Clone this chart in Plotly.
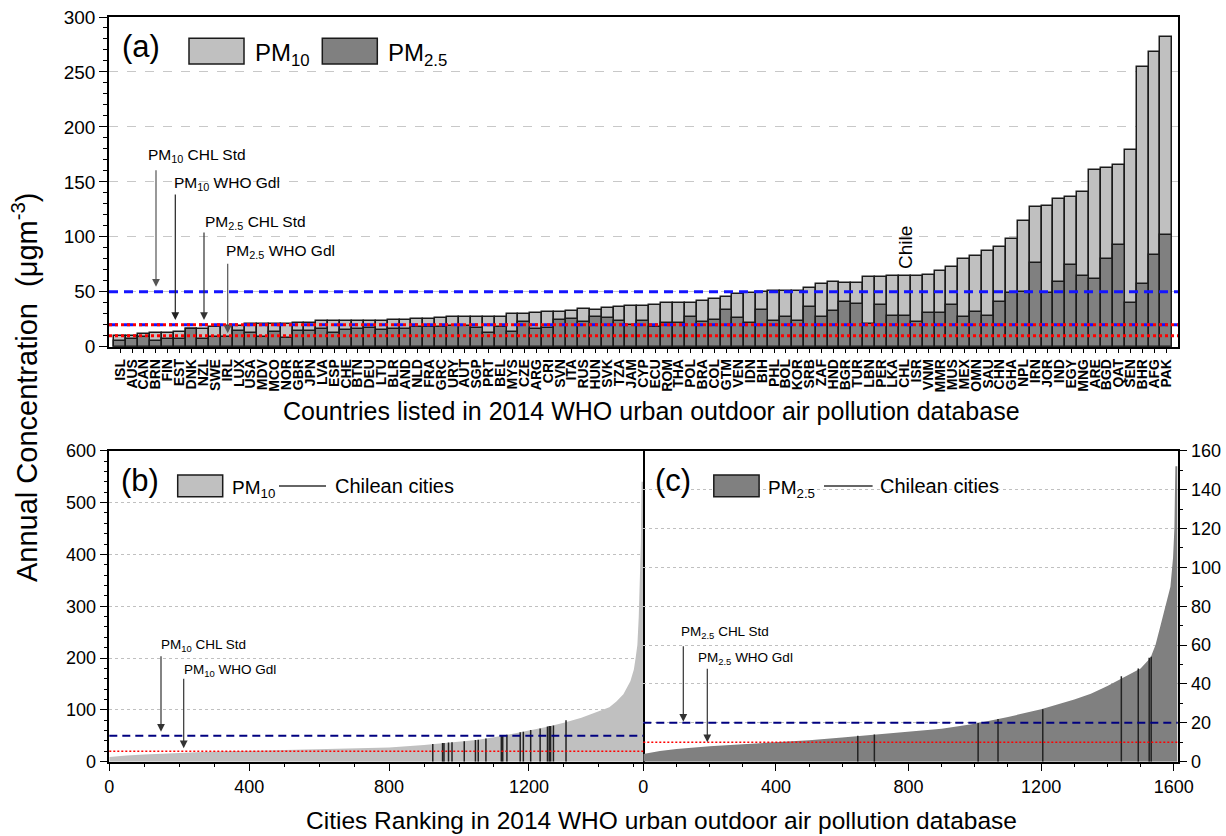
import plotly.graph_objects as go

W, H = 1226, 836


def px(x):
    return x / W


def py(y):
    return 1 - y / H


# ---------------- data ----------------
countries = ["ISL", "AUS", "CAN", "BRN", "FIN", "EST", "DNK", "NZL", "SWE", "IRL",
             "LUX", "USA", "MDV", "MCO", "NOR", "GBR", "JPN", "LVA", "ESP", "CHE",
             "BTN", "DEU", "LTU", "BLR", "AND", "NLD", "FRA", "GRC", "URY", "AUT",
             "SGP", "PRT", "BEL", "MYS", "CZE", "ARG", "CRI", "SVN", "ITA", "RUS",
             "HUN", "SVK", "TZA", "JAM", "CYP", "ECU", "ROM", "THA", "POL", "BRA",
             "COL", "GTM", "VEN", "IDN", "BIH", "PHL", "BOL", "KOR", "SRB", "ZAF",
             "HND", "BGR", "TUR", "LBN", "PER", "LKA", "CHL", "ISR", "VNM", "MMR",
             "MUS", "MEX", "OMN", "SAU", "CHN", "GHA", "NPL", "IRN", "JOR", "IND",
             "EGY", "MNG", "ARE", "BGD", "QAT", "SEN", "BHR", "AFG", "PAK"]

pm10_country = [9.5, 10, 11.5, 12.5, 12.7, 13.7, 16, 16.3, 17.8, 19,
                19, 20.8, 20.8, 20.8, 20.8, 21.8, 21.8, 23.3, 23.3, 23.3,
                23, 23, 23, 24.3, 24.3, 25.3, 25.3, 26.3, 27.2, 27.3,
                27.3, 27.3, 27.3, 29.4, 29.4, 31, 31.9, 31.6, 32.8, 34,
                33.7, 34.9, 35.8, 36.7, 36.7, 38.3, 39.5, 39.5, 39.5, 41.3,
                43.1, 45.5, 47.7, 48.9, 49.8, 50.4, 51, 51, 53.1, 56.8,
                58.5, 58.3, 58.3, 63.8, 63.8, 64.4, 64.4, 64.4, 65.3, 69.2,
                72.3, 79.5, 82.6, 87.4, 90.5, 98.1, 114.1, 127.5, 128.1, 134.2,
                136.3, 140.6, 161.2, 163, 165.1, 179.1, 254.1, 268.1, 281.7]

pm25_country = [5.5, 6.7, 8.5, 5.5, 7, 7, 16, 6.7, 9, 9.1,
                14.3, 12.7, 9.1, 13.7, 7.6, 14.3, 14, 16.1, 12.5, 15.5,
                16, 17.3, 15.2, 16, 16, 17.6, 18, 17.6, 18.8, 18.8,
                17.3, 12.1, 18.2, 13.7, 22.2, 16.4, 17.3, 24.3, 25.5, 22.8,
                27.3, 26.1, 23.1, 19.7, 23.4, 17.6, 21.3, 21.9, 27.3, 22.8,
                24.3, 33.4, 26.4, 21.9, 33.4, 23.4, 27.3, 23.4, 36.4, 27.3,
                32.2, 41, 38.9, 20.6, 37.9, 28.2, 28.2, 22.8, 30.4, 30.4,
                37.6, 27.3, 31.3, 28.2, 41, 49.2, 50.1, 76.2, 48.6, 59.2,
                74.1, 64.4, 61.3, 79.5, 92.3, 40.1, 57.1, 83.8, 101.4]

# city rankings (values read at sampled ranks)
pm10_rank = [0, 25, 50, 100, 200, 300, 400, 500, 600, 700, 800, 900, 1000, 1050,
             1100, 1150, 1200, 1250, 1300, 1350, 1400, 1430, 1450, 1470, 1490,
             1500, 1505, 1510, 1514, 1517, 1520, 1522, 1526]
pm10_city = [9, 11, 12, 14, 17, 19.5, 21, 22.5, 24, 25.5, 27.5, 32, 38, 42,
             47, 53, 60, 67, 75, 85, 97, 105, 116, 130, 155,
             178, 200, 225, 280, 340, 420, 540, 540]

chile_pm10_rank = [925, 953, 957, 970, 980, 1015, 1047, 1055, 1077, 1121, 1125,
                   1137, 1175, 1184, 1205, 1232, 1253, 1258, 1262, 1270, 1306]
chile_pm10_value = [34, 36, 36, 37, 37.5, 39.5, 42, 42.5, 45, 50, 51,
                    52, 57, 58, 61, 64, 68, 69, 69, 70, 80]

pm25_rank = [0, 50, 100, 200, 300, 400, 500, 600, 700, 800, 900, 1000, 1100,
             1200, 1300, 1350, 1400, 1450, 1500, 1530, 1545, 1560, 1575, 1590,
             1598, 1602, 1605, 1611]
pm25_city = [4, 5.5, 6.5, 8, 9, 10, 11, 12.5, 14, 15.5, 17, 19.5, 23,
             27, 32, 35, 39, 43.5, 48, 53.5, 60, 70, 80, 90,
             105, 120, 152, 152]

chile_pm25_rank = [647, 697, 1010, 1070, 1205, 1442, 1493, 1526, 1532]
chile_pm25_value = [13.3, 14, 20, 22, 27, 44, 48, 53.5, 54]

pm10_chl_std, pm10_who_gdl = 50, 20
pm25_chl_std, pm25_who_gdl = 20, 10

# ---------------- figure ----------------
FONT = "Liberation Sans, Arial, sans-serif"
NARROW = "Liberation Sans Narrow, Arial Narrow, Liberation Sans, Arial, sans-serif"
idx = list(range(len(countries)))

fig = go.Figure()

fig.add_trace(go.Bar(x=idx, y=pm10_country, width=1, xaxis="x", yaxis="y",
                     marker=dict(color="#c0c0c0", line=dict(color="#1a1a1a", width=1.5)),
                     showlegend=False))
fig.add_trace(go.Bar(x=idx, y=pm25_country, width=1, xaxis="x", yaxis="y",
                     marker=dict(color="#808080", line=dict(color="#1a1a1a", width=1.5)),
                     showlegend=False))

fig.add_trace(go.Scatter(x=pm10_rank, y=pm10_city, mode="lines", fill="tozeroy",
                         fillcolor="#c0c0c0", line=dict(width=0, color="#c0c0c0"),
                         xaxis="x2", yaxis="y2", showlegend=False))
fig.add_trace(go.Scatter(x=pm25_rank, y=pm25_city, mode="lines", fill="tozeroy",
                         fillcolor="#808080", line=dict(width=0, color="#808080"),
                         xaxis="x3", yaxis="y3", showlegend=False))


def vlines(ranks, vals):
    xs, ys = [], []
    for r, v in zip(ranks, vals):
        xs += [r, r, None]
        ys += [0, v, None]
    return xs, ys


cx, cy = vlines(chile_pm10_rank, chile_pm10_value)
fig.add_trace(go.Scatter(x=cx, y=cy, mode="lines", line=dict(color="#222222", width=1.5),
                         xaxis="x2", yaxis="y2", showlegend=False))
cx, cy = vlines(chile_pm25_rank, chile_pm25_value)
fig.add_trace(go.Scatter(x=cx, y=cy, mode="lines", line=dict(color="#222222", width=1.5),
                         xaxis="x3", yaxis="y3", showlegend=False))

# domains
xa = [px(109), px(1178)]
ya = [py(346.7), py(17)]
xb = [px(109.3), px(643.3)]
xc = [px(643.3), px(1177.7)]
ybc = [py(761.7), py(450.7)]

axis_common = dict(showline=True, linecolor="black", linewidth=1.5, tickcolor="black",
                   tickwidth=1.2, zeroline=False, ticks="outside",
                   tickfont=dict(family=FONT, size=18, color="black"))

fig.update_layout(
    width=W, height=H, margin=dict(l=0, r=0, t=0, b=0),
    paper_bgcolor="white", plot_bgcolor="white", barmode="overlay", bargap=0,
    template="none", showlegend=False, hovermode=False,
    xaxis=dict(**{**axis_common, "tickfont": dict(family=FONT, size=14, color="black", weight="bold")},
               domain=xa, anchor="y", range=[-0.94, 88.98], tickmode="array",
               tickvals=idx, ticktext=countries, tickangle=-90, ticklen=5,
               showgrid=False, mirror=True),
    yaxis=dict(**{**axis_common, "tickfont": dict(family=FONT, size=19, color="black")},
               domain=ya, anchor="x", range=[0, 300], dtick=50, ticklen=8,
               minor=dict(dtick=10, ticklen=4, ticks="outside", tickcolor="black"),
               showgrid=True, gridcolor="#c8c8c8", griddash="dash", gridwidth=1,
               mirror=True),
    xaxis4=dict(overlaying="x", side="top", anchor="y", range=[-0.94, 88.98],
                tickmode="array", tickvals=idx, ticks="inside", ticklen=5,
                tickcolor="black", tickwidth=1.2, showticklabels=False,
                showgrid=False, zeroline=False, showline=False),
    yaxis4=dict(overlaying="y", side="right", anchor="x", range=[0, 300], dtick=50,
                ticks="inside", ticklen=8, tickcolor="black", tickwidth=1.2,
                minor=dict(dtick=10, ticklen=4, ticks="inside", tickcolor="black"),
                showticklabels=False, showgrid=False, zeroline=False, showline=False),
    xaxis2=dict(**axis_common, domain=xb, anchor="y2", range=[0, 1527], dtick=400,
                ticklen=8, minor=dict(dtick=100, ticklen=4, ticks="outside", tickcolor="black"),
                showgrid=False, mirror=True),
    yaxis2=dict(**axis_common, domain=ybc, anchor="x2", range=[0, 600], dtick=100,
                ticklen=8, minor=dict(dtick=20, ticklen=4, ticks="outside", tickcolor="black"),
                showgrid=True, gridcolor="#c0c0c0", griddash="dot", gridwidth=1,
                mirror=True),
    xaxis5=dict(overlaying="x2", side="top", anchor="y2", range=[0, 1527], dtick=400,
                ticks="inside", ticklen=8, tickcolor="black", tickwidth=1.2,
                minor=dict(dtick=100, ticklen=4, ticks="inside", tickcolor="black"),
                showticklabels=False, showgrid=False, zeroline=False, showline=False),
    xaxis3=dict(**axis_common, domain=xc, anchor="y3", range=[0, 1612], dtick=400,
                ticklen=8, minor=dict(dtick=100, ticklen=4, ticks="outside", tickcolor="black"),
                showgrid=False, mirror=True),
    yaxis3=dict(**axis_common, domain=ybc, anchor="x3", side="right", range=[0, 160],
                dtick=20, ticklen=8,
                minor=dict(dtick=10, ticklen=4, ticks="outside", tickcolor="black"),
                showgrid=True, gridcolor="#c0c0c0", griddash="dot", gridwidth=1,
                mirror=False),
    xaxis6=dict(overlaying="x3", side="top", anchor="y3", range=[0, 1612], dtick=400,
                ticks="inside", ticklen=8, tickcolor="black", tickwidth=1.2,
                minor=dict(dtick=100, ticklen=4, ticks="inside", tickcolor="black"),
                showticklabels=False, showgrid=False, zeroline=False, showline=False),
)

shapes = []


def hline(xref, yref, y, color, width, dash):
    shapes.append(dict(type="line", xref=xref + " domain", yref=yref, x0=0, x1=1,
                       y0=y, y1=y, layer="above",
                       line=dict(color=color, width=width, dash=dash)))


hline("x", "y", pm10_chl_std, "#1414ff", 3, "9px,6px")
hline("x", "y", pm10_who_gdl, "#1414ff", 3, "9px,6px")
hline("x", "y", pm25_chl_std, "#ff0000", 3, "3px,3px")
hline("x", "y", pm25_who_gdl, "#ff0000", 3, "3px,3px")
hline("x2", "y2", pm10_chl_std, "#000080", 2, "8px,5px")
hline("x2", "y2", pm10_who_gdl, "#ff0000", 1.5, "2px,2px")
hline("x3", "y3", pm25_chl_std, "#000080", 2, "8px,5px")
hline("x3", "y3", pm25_who_gdl, "#ff0000", 1.5, "2px,2px")

# legend swatches
for (x0, x1, y0, y1, col) in [(189, 244, 38.3, 64, "#c0c0c0"), (322.3, 377.3, 38.3, 64, "#808080"),
                              (177.7, 222.7, 475, 496.7, "#c0c0c0"), (713.8, 759.1, 475, 496.7, "#808080")]:
    shapes.append(dict(type="rect", xref="paper", yref="paper", x0=px(x0), x1=px(x1),
                       y0=py(y1), y1=py(y0), fillcolor=col, layer="above",
                       line=dict(color="#1a1a1a", width=1.5)))
for (x0, x1, y) in [(279, 326, 486), (824, 872.6, 486)]:
    shapes.append(dict(type="line", xref="paper", yref="paper", x0=px(x0), x1=px(x1),
                       y0=py(y), y1=py(y), line=dict(color="#333333", width=1.5)))
fig.update_layout(shapes=shapes)

ann = []


def text(x, y, s, size, family=FONT, xanchor="left", angle=0):
    ann.append(dict(x=px(x), y=py(y), xref="paper", yref="paper", text=s, showarrow=False,
                    xanchor=xanchor, yanchor="middle", textangle=angle,
                    font=dict(family=family, size=size, color="black")))


def arrow(x, y, yref, length, color="#333333"):
    ann.append(dict(x=px(x), y=y, xref="paper", yref=yref, text="", showarrow=True,
                    ax=0, ay=-length, axref="pixel", ayref="pixel",
                    arrowhead=2, arrowsize=1.3, arrowwidth=1.2, arrowcolor=color))


# panel labels and legends
text(141, 46, "(a)", 31, xanchor="center")
text(252.7, 55, "PM<sub>10</sub>", 24)
text(386, 55, "PM<sub>2.5</sub>", 24)
text(140, 480, "(b)", 31, xanchor="center")
text(230, 489, "PM<sub>10</sub>", 19)
text(332.7, 486, "Chilean cities", 20)
text(673, 480, "(c)", 31, xanchor="center")
text(766, 489, "PM<sub>2.5</sub>", 19)
text(877.6, 486, "Chilean cities", 20)

# standard annotations (a)
text(146, 156, "PM<sub>10</sub> CHL Std", 15.5, NARROW)
text(171.7, 183, "PM<sub>10</sub> WHO Gdl", 15.5, NARROW)
text(203.3, 222, "PM<sub>2.5</sub> CHL Std", 15.5, NARROW)
text(224, 251, "PM<sub>2.5</sub> WHO Gdl", 15.5, NARROW)
arrow(156, 54.6, "y", 118, "#555555")
arrow(175.3, 24.3, "y", 127, "#222222")
arrow(204, 24.3, "y", 89, "#333333")
arrow(227.7, 12.2, "y", 71, "#555555")

# (b)
text(159.3, 645, "PM<sub>10</sub> CHL Std", 13.5, NARROW)
text(181.7, 670, "PM<sub>10</sub> WHO Gdl", 13.5, NARROW)
arrow(161, 57.9, "y2", 77, "#333333")
arrow(183.7, 25.8, "y2", 71, "#333333")

# (c)
text(679, 632, "PM<sub>2.5</sub> CHL Std", 13.5, NARROW)
text(696.4, 658, "PM<sub>2.5</sub> WHO Gdl", 13.5, NARROW)
arrow(683.3, 20.5, "y3", 77, "#333333")
arrow(707.3, 10.0, "y3", 75, "#333333")

# Chile label
text(905, 248, "Chile", 19, xanchor="center", angle=-90)

# titles
text(652, 411, "Countries listed in 2014 WHO urban outdoor air pollution database", 25,
     xanchor="center")
text(661, 820, "Cities Ranking in 2014 WHO urban outdoor air pollution database", 24.5,
     xanchor="center")
text(25, 388, "Annual Concentration  (μgm<sup>-3</sup>)", 29, xanchor="center", angle=-90)

fig.update_layout(annotations=ann)
fig.write_html("out.html")
